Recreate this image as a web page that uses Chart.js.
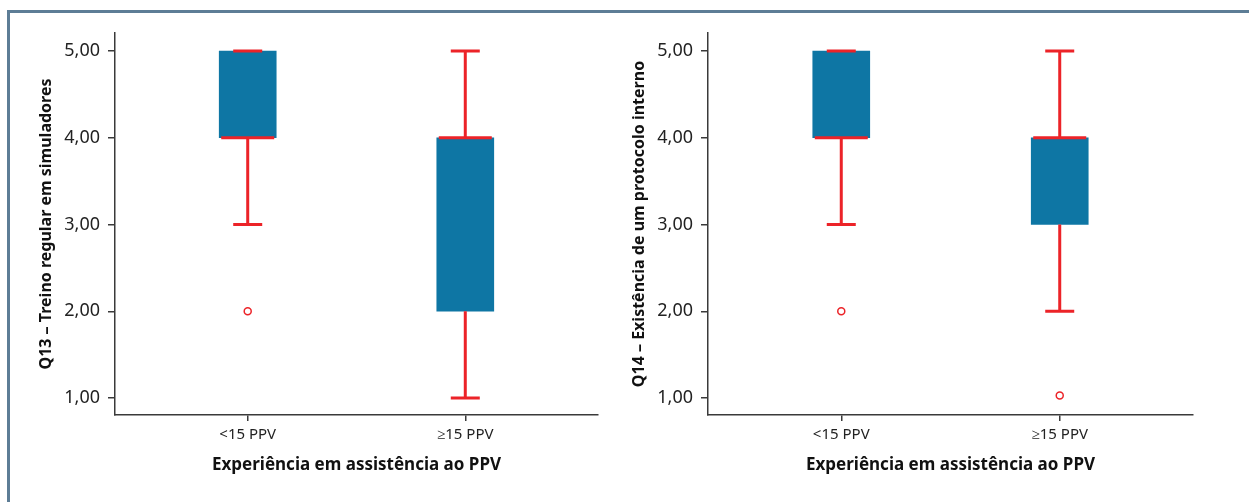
<!DOCTYPE html>
<html>
<head>
<meta charset="utf-8">
<script src="https://cdn.jsdelivr.net/npm/chart.js@4"></script>
<style>
  html, body { margin: 0; padding: 0; background: #fff; overflow: hidden; }
  body { width: 1249px; height: 502px; position: relative; }
  .frame { position: absolute; left: 7px; top: 10px; width: 1300px; height: 600px; border: 3px solid #5d7d96; }
  .wrap { position: absolute; top: 0; height: 502px; }
</style>
</head>
<body>
<div class="frame"></div>
<div class="wrap" style="left:0; width:610px;"><canvas id="chart-q13"></canvas></div>
<div class="wrap" style="left:600px; width:649px;"><canvas id="chart-q14"></canvas></div>
<script>
// categorias e valores
const categories = ['<15 PPV', '\u226515 PPV'];
const yTicks = [1, 2, 3, 4, 5];

// Q13 – Treino regular em simuladores
const q13Q1 = [4, 2];
const q13Q3 = [5, 4];
const q13Median = [4, 4];
const q13Min = [3, 1];
const q13Max = [5, 5];
const q13Outliers = [[2], []];

// Q14 – Existência de um protocolo interno
const q14Q1 = [4, 3];
const q14Q3 = [5, 4];
const q14Median = [4, 4];
const q14Min = [3, 2];
const q14Max = [5, 5];
const q14Outliers = [[2], [1.03]];

const BOX_BLUE = '#0e76a4';
const RED = '#ec2328';
const AXIS = '#3a3a3a';

// bigodes, tampas e mediana desenhados com as escalas do Chart.js
const whiskerPlugin = {
  id: 'whiskers',
  afterDatasetsDraw(chart, args, opts) {
    const { ctx, scales: { x, y } } = chart;
    ctx.save();
    ctx.strokeStyle = RED;
    ctx.lineWidth = 3;
    opts.min.forEach((mn, i) => {
      const cx = x.getPixelForValue(i);
      const boxHalf = opts.boxWidth / 2;
      const capHalf = opts.capWidth / 2;
      const yMin = y.getPixelForValue(mn);
      const yMax = y.getPixelForValue(opts.max[i]);
      const yQ1 = y.getPixelForValue(opts.q1[i]);
      const yQ3 = y.getPixelForValue(opts.q3[i]);
      const yMed = y.getPixelForValue(opts.median[i]);
      ctx.beginPath();
      // bigode inferior
      ctx.moveTo(cx, yQ1); ctx.lineTo(cx, yMin);
      ctx.moveTo(cx - capHalf, yMin); ctx.lineTo(cx + capHalf, yMin);
      // bigode superior
      ctx.moveTo(cx, yQ3); ctx.lineTo(cx, yMax);
      ctx.moveTo(cx - capHalf, yMax); ctx.lineTo(cx + capHalf, yMax);
      // mediana
      ctx.moveTo(cx - boxHalf + 2, yMed); ctx.lineTo(cx + boxHalf - 2, yMed);
      ctx.stroke();
    });
    ctx.restore();
  }
};

function makeBoxChart(canvasId, q1, q3, median, min, max, outliers, yTitle, yAxisWidth, yTitleOffset, rightPad) {
  const boxData = q1.map((v, i) => ({ x: i, y: [v, q3[i]] }));
  const outData = [];
  outliers.forEach((list, i) => list.forEach(v => outData.push({ x: i, y: v })));

  return new Chart(document.getElementById(canvasId), {
    type: 'bar',
    data: {
      datasets: [
        {
          type: 'bar',
          data: boxData,
          backgroundColor: BOX_BLUE,
          borderWidth: 0,
          barThickness: 57
        },
        {
          type: 'scatter',
          data: outData,
          pointStyle: 'circle',
          pointRadius: 3.5,
          pointBorderWidth: 1.5,
          pointBorderColor: RED,
          pointBackgroundColor: '#fff'
        }
      ]
    },
    options: {
      responsive: true,
      maintainAspectRatio: false,
      animation: false,
      layout: { padding: { left: 0, top: 33, right: rightPad, bottom: 0 } },
      plugins: {
        legend: { display: false },
        tooltip: { enabled: false },
        whiskers: { q1, q3, median, min, max, boxWidth: 57, capWidth: 29 }
      },
      scales: {
        x: {
          type: 'linear',
          min: -0.61,
          max: 1.61,
          offset: false,
          afterBuildTicks: s => { s.ticks = categories.map((c, i) => ({ value: i })); },
          afterFit: s => { s.height = 87; },
          ticks: {
            callback: v => categories[v],
            color: '#222',
            font: { family: 'Noto Sans', size: 15 },
            padding: 5,
            maxRotation: 0
          },
          grid: { offset: false, drawOnChartArea: false, drawTicks: true, tickLength: 6, color: AXIS, lineWidth: 1.5 },
          border: { display: true, color: AXIS, width: 1.5 },
          title: {
            display: true,
            text: 'Experiência em assistência ao PPV',
            color: '#111',
            font: { family: 'Noto Sans', size: 17, weight: 'bold' },
            padding: { top: 0, bottom: 27 }
          }
        },
        y: {
          min: 0.804,
          max: 5.208,
          afterBuildTicks: s => { s.ticks = yTicks.map(v => ({ value: v })); },
          afterFit: s => { s.width = yAxisWidth; },
          ticks: {
            callback: v => v.toFixed(2).replace('.', ','),
            color: '#222',
            font: { family: 'Noto Sans', size: 18 },
            padding: 8
          },
          grid: { drawOnChartArea: false, drawTicks: true, tickLength: 7, color: AXIS, lineWidth: 1.5 },
          border: { display: true, color: AXIS, width: 1.5 },
          title: {
            display: true,
            text: yTitle,
            color: '#111',
            font: { family: 'Noto Sans', size: 16, weight: 'bold' },
            padding: { top: yTitleOffset, bottom: 0 }
          }
        }
      }
    },
    plugins: [whiskerPlugin]
  });
}

makeBoxChart('chart-q13', q13Q1, q13Q3, q13Median, q13Min, q13Max, q13Outliers,
  'Q13 – Treino regular em simuladores', 115, 37, 12);
makeBoxChart('chart-q14', q14Q1, q14Q3, q14Median, q14Min, q14Max, q14Outliers,
  'Q14 – Existência de um protocolo interno', 108, 30, 56);
</script>
</body>
</html>
